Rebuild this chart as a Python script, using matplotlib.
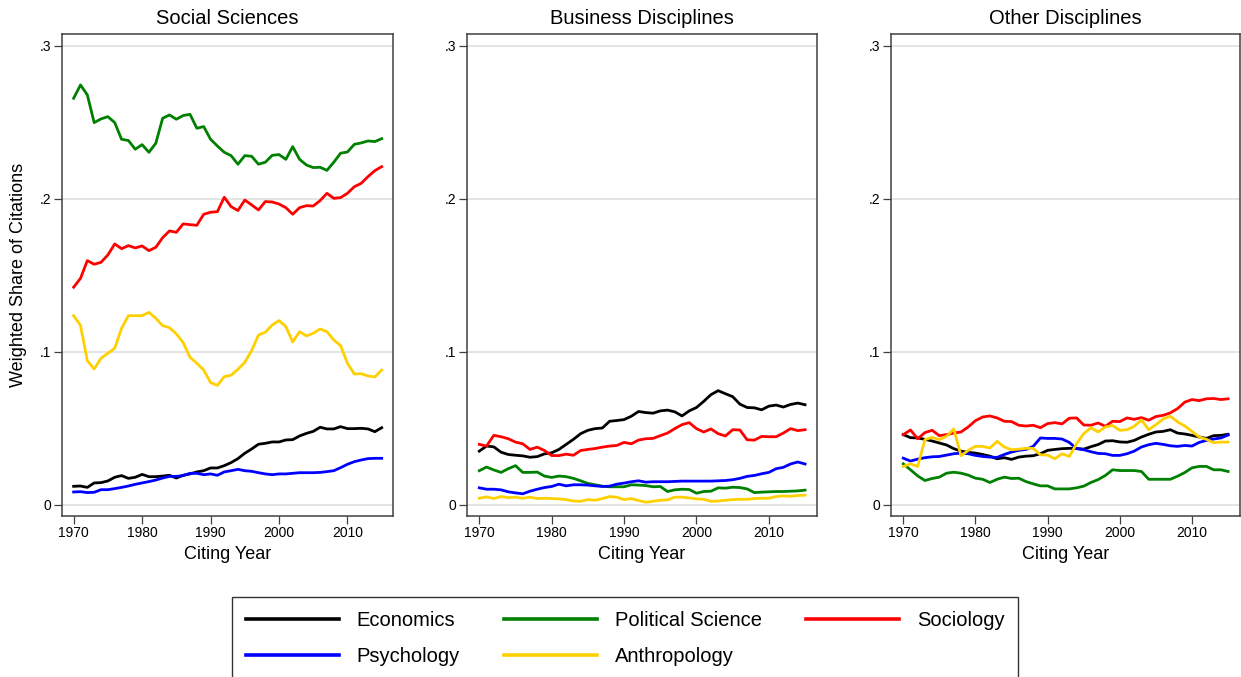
import matplotlib
matplotlib.use("Agg")
import matplotlib.pyplot as plt
import numpy as np

plt.rcParams['font.family'] = ['Liberation Sans', 'DejaVu Sans']

years = list(range(1970, 2016))
panel_titles = ["Social Sciences", "Business Disciplines", "Other Disciplines"]
series_names = ["Economics", "Political Science", "Sociology", "Psychology", "Anthropology"]
series_colors = ["#000000", "#008000", "#ff0000", "#0000ff", "#ffd000"]
ytick_vals = [0, 0.1, 0.2, 0.3]
ytick_labels = ["0", ".1", ".2", ".3"]
xtick_vals = [1970, 1980, 1990, 2000, 2010]

# ---- Social Sciences ----
ss_econ = [0.0122,0.0124,0.0115,0.0144,0.0146,0.0157,0.0181,0.0192,0.0174,0.0181,
           0.0200,0.0185,0.0185,0.0189,0.0194,0.0176,0.0194,0.0203,0.0216,0.0224,
           0.0242,0.0242,0.0257,0.0277,0.0303,0.0338,0.0366,0.0397,0.0403,0.0412,
           0.0412,0.0425,0.0427,0.0451,0.0468,0.0481,0.0508,0.0497,0.0497,0.0512,
           0.0499,0.0499,0.0501,0.0497,0.0479,0.0505]
ss_polsci = [0.2658,0.2745,0.2680,0.2499,0.2523,0.2538,0.2499,0.2390,0.2382,0.2325,
             0.2355,0.2305,0.2364,0.2527,0.2549,0.2521,0.2545,0.2553,0.2462,0.2473,
             0.2390,0.2346,0.2305,0.2283,0.2227,0.2283,0.2279,0.2227,0.2240,0.2285,
             0.2290,0.2259,0.2342,0.2259,0.2222,0.2205,0.2207,0.2187,0.2240,0.2299,
             0.2307,0.2357,0.2366,0.2379,0.2375,0.2394]
ss_soc = [0.1423,0.1481,0.1597,0.1573,0.1586,0.1634,0.1706,0.1675,0.1695,0.1680,
          0.1693,0.1662,0.1684,0.1747,0.1791,0.1782,0.1837,0.1832,0.1828,0.1900,
          0.1913,0.1917,0.2011,0.1950,0.1924,0.1993,0.1961,0.1928,0.1983,0.1980,
          0.1967,0.1943,0.1900,0.1943,0.1956,0.1954,0.1989,0.2037,0.2004,0.2009,
          0.2037,0.2080,0.2102,0.2146,0.2185,0.2211]
ss_psych = [0.0085,0.0087,0.0081,0.0083,0.0100,0.0100,0.0107,0.0115,0.0124,0.0135,
            0.0144,0.0153,0.0163,0.0176,0.0187,0.0187,0.0192,0.0207,0.0207,0.0198,
            0.0203,0.0194,0.0216,0.0224,0.0233,0.0224,0.0220,0.0211,0.0203,0.0198,
            0.0203,0.0203,0.0207,0.0211,0.0211,0.0211,0.0213,0.0218,0.0224,0.0244,
            0.0266,0.0283,0.0294,0.0303,0.0305,0.0305]
ss_anthro = [0.1237,0.1174,0.0943,0.0889,0.0959,0.0991,0.1024,0.1155,0.1237,0.1237,
             0.1237,0.1259,0.1220,0.1172,0.1159,0.1118,0.1061,0.0965,0.0926,0.0882,
             0.0800,0.0782,0.0839,0.0848,0.0887,0.0932,0.1009,0.1111,0.1129,0.1176,
             0.1205,0.1166,0.1065,0.1133,0.1105,0.1122,0.1150,0.1133,0.1078,0.1041,
             0.0926,0.0856,0.0858,0.0843,0.0837,0.0882]

# ---- Business Disciplines ----
bd_econ = [0.0352,0.0385,0.0380,0.0345,0.0330,0.0325,0.0321,0.0312,0.0316,0.0334,
           0.0341,0.0363,0.0396,0.0429,0.0466,0.0488,0.0499,0.0503,0.0547,0.0552,
           0.0558,0.0580,0.0611,0.0604,0.0600,0.0615,0.0620,0.0609,0.0582,0.0615,
           0.0637,0.0677,0.0721,0.0747,0.0727,0.0708,0.0659,0.0637,0.0635,0.0622,
           0.0646,0.0653,0.0640,0.0657,0.0666,0.0655]
bd_polsci = [0.0224,0.0248,0.0229,0.0213,0.0237,0.0257,0.0213,0.0213,0.0215,0.0189,
             0.0180,0.0189,0.0185,0.0174,0.0158,0.0141,0.0132,0.0123,0.0119,0.0119,
             0.0119,0.0132,0.0130,0.0127,0.0119,0.0121,0.0088,0.0099,0.0103,0.0101,
             0.0077,0.0088,0.0090,0.0112,0.0110,0.0116,0.0114,0.0105,0.0081,0.0084,
             0.0086,0.0088,0.0088,0.0090,0.0092,0.0097]
bd_soc = [0.0396,0.0385,0.0455,0.0446,0.0433,0.0411,0.0400,0.0363,0.0378,0.0356,
          0.0323,0.0323,0.0332,0.0325,0.0356,0.0363,0.0369,0.0378,0.0385,0.0389,
          0.0409,0.0400,0.0424,0.0433,0.0435,0.0453,0.0470,0.0499,0.0525,0.0538,
          0.0499,0.0477,0.0497,0.0466,0.0451,0.0492,0.0490,0.0426,0.0424,0.0448,
          0.0446,0.0446,0.0470,0.0499,0.0486,0.0492]
bd_psych = [0.0112,0.0103,0.0103,0.0099,0.0086,0.0079,0.0073,0.0090,0.0103,0.0114,
            0.0121,0.0136,0.0125,0.0132,0.0132,0.0130,0.0125,0.0121,0.0123,0.0136,
            0.0143,0.0152,0.0158,0.0149,0.0152,0.0152,0.0152,0.0154,0.0156,0.0156,
            0.0156,0.0156,0.0156,0.0158,0.0160,0.0165,0.0174,0.0187,0.0193,0.0204,
            0.0213,0.0237,0.0246,0.0268,0.0281,0.0268]
bd_anthro = [0.0044,0.0053,0.0042,0.0055,0.0048,0.0051,0.0044,0.0051,0.0042,0.0044,
             0.0042,0.0040,0.0035,0.0026,0.0024,0.0035,0.0031,0.0042,0.0055,0.0051,
             0.0035,0.0042,0.0029,0.0018,0.0024,0.0031,0.0033,0.0051,0.0051,0.0046,
             0.0040,0.0037,0.0024,0.0026,0.0031,0.0035,0.0037,0.0037,0.0042,0.0044,
             0.0044,0.0055,0.0059,0.0057,0.0062,0.0064]

# ---- Other Disciplines ----
od_econ = [0.0460,0.0440,0.0438,0.0429,0.0418,0.0405,0.0392,0.0368,0.0352,0.0344,
           0.0339,0.0330,0.0319,0.0302,0.0309,0.0298,0.0313,0.0319,0.0322,0.0335,
           0.0357,0.0363,0.0368,0.0370,0.0370,0.0365,0.0381,0.0395,0.0418,0.0420,
           0.0412,0.0410,0.0422,0.0444,0.0462,0.0477,0.0481,0.0492,0.0470,0.0464,
           0.0455,0.0444,0.0435,0.0453,0.0455,0.0462]
od_polsci = [0.0269,0.0230,0.0190,0.0160,0.0173,0.0182,0.0208,0.0214,0.0208,0.0195,
             0.0175,0.0168,0.0147,0.0168,0.0182,0.0173,0.0175,0.0153,0.0138,0.0125,
             0.0125,0.0105,0.0105,0.0105,0.0112,0.0123,0.0147,0.0166,0.0193,0.0230,
             0.0225,0.0225,0.0225,0.0219,0.0168,0.0168,0.0168,0.0168,0.0188,0.0212,
             0.0243,0.0252,0.0252,0.0230,0.0230,0.0219]
od_soc = [0.0460,0.0490,0.0433,0.0473,0.0488,0.0453,0.0460,0.0470,0.0477,0.0510,
          0.0551,0.0575,0.0582,0.0569,0.0547,0.0545,0.0521,0.0516,0.0521,0.0505,
          0.0532,0.0538,0.0530,0.0567,0.0569,0.0523,0.0521,0.0536,0.0514,0.0547,
          0.0545,0.0569,0.0560,0.0571,0.0554,0.0578,0.0586,0.0602,0.0630,0.0672,
          0.0689,0.0682,0.0694,0.0696,0.0689,0.0694]
od_psych = [0.0306,0.0287,0.0300,0.0309,0.0315,0.0317,0.0326,0.0335,0.0339,0.0335,
            0.0324,0.0317,0.0313,0.0311,0.0330,0.0346,0.0357,0.0363,0.0383,0.0438,
            0.0435,0.0435,0.0431,0.0409,0.0368,0.0361,0.0348,0.0337,0.0335,0.0324,
            0.0324,0.0335,0.0352,0.0379,0.0394,0.0403,0.0396,0.0387,0.0383,0.0389,
            0.0385,0.0409,0.0422,0.0431,0.0438,0.0457]
od_anthro = [0.0252,0.0269,0.0252,0.0427,0.0442,0.0427,0.0449,0.0497,0.0322,0.0357,
             0.0383,0.0383,0.0372,0.0416,0.0379,0.0361,0.0365,0.0370,0.0370,0.0328,
             0.0326,0.0302,0.0335,0.0317,0.0400,0.0466,0.0505,0.0477,0.0510,0.0519,
             0.0488,0.0492,0.0514,0.0556,0.0492,0.0525,0.0562,0.0580,0.0543,0.0516,
             0.0481,0.0444,0.0429,0.0407,0.0411,0.0411]

panels = [
    [ss_econ, ss_polsci, ss_soc, ss_psych, ss_anthro],
    [bd_econ, bd_polsci, bd_soc, bd_psych, bd_anthro],
    [od_econ, od_polsci, od_soc, od_psych, od_anthro],
]

W, H = 1241, 677
fig = plt.figure(figsize=(W / 100, H / 100), dpi=100)
fig.patch.set_facecolor("white")

# axes boxes in pixels: (left, right, top, bottom)
boxes = [(62, 393, 34, 516), (467, 817, 34, 516), (891, 1240, 34, 516)]
frame_col = "#404040"
handles = []
for i, (l, r, t, b) in enumerate(boxes):
    ax = fig.add_axes([l / W, (H - b) / H, (r - l) / W, (b - t) / H])
    for v in ytick_vals:
        ax.axhline(v, color="#e2e2e2", lw=1.3, zorder=0)
    for name, col, vals in zip(series_names, series_colors, panels[i]):
        ln, = ax.plot(years, vals, color=col, lw=2.0, label=name, zorder=3)
        if i == 0:
            handles.append(ln)
    ax.set_xlim(1968.3, 2016.65)
    ax.set_ylim(-0.0072, 0.3078)
    ax.set_yticks(ytick_vals)
    ax.set_yticklabels(ytick_labels)
    ax.set_xticks(xtick_vals)
    ax.tick_params(axis="both", direction="out", length=5.5, width=0.9,
                   color=frame_col, labelsize=10, pad=2)
    for s in ax.spines.values():
        s.set_color(frame_col)
        s.set_linewidth(1.1)
    ax.set_title(panel_titles[i], fontsize=14.5, pad=7)
    ax.set_xlabel("Citing Year", fontsize=13, labelpad=4)
    if i == 0:
        ax.set_ylabel("Weighted Share of Citations", fontsize=13, labelpad=9)

order = [0, 3, 1, 4, 2]
leg = fig.legend([handles[k] for k in order], [series_names[k] for k in order],
                 ncol=3, loc="upper left", bbox_to_anchor=(232 / W, 1 - 597 / H),
                 fontsize=14.5, frameon=True, fancybox=False, edgecolor="#000000",
                 handlelength=4.63, handletextpad=0.87, columnspacing=2.2,
                 labelspacing=0.84, borderpad=0.68, borderaxespad=0)
leg.get_frame().set_linewidth(1.0)
for lh in leg.get_lines():
    lh.set_linewidth(2.6)

fig.savefig("out.png", dpi=100, facecolor="white")
